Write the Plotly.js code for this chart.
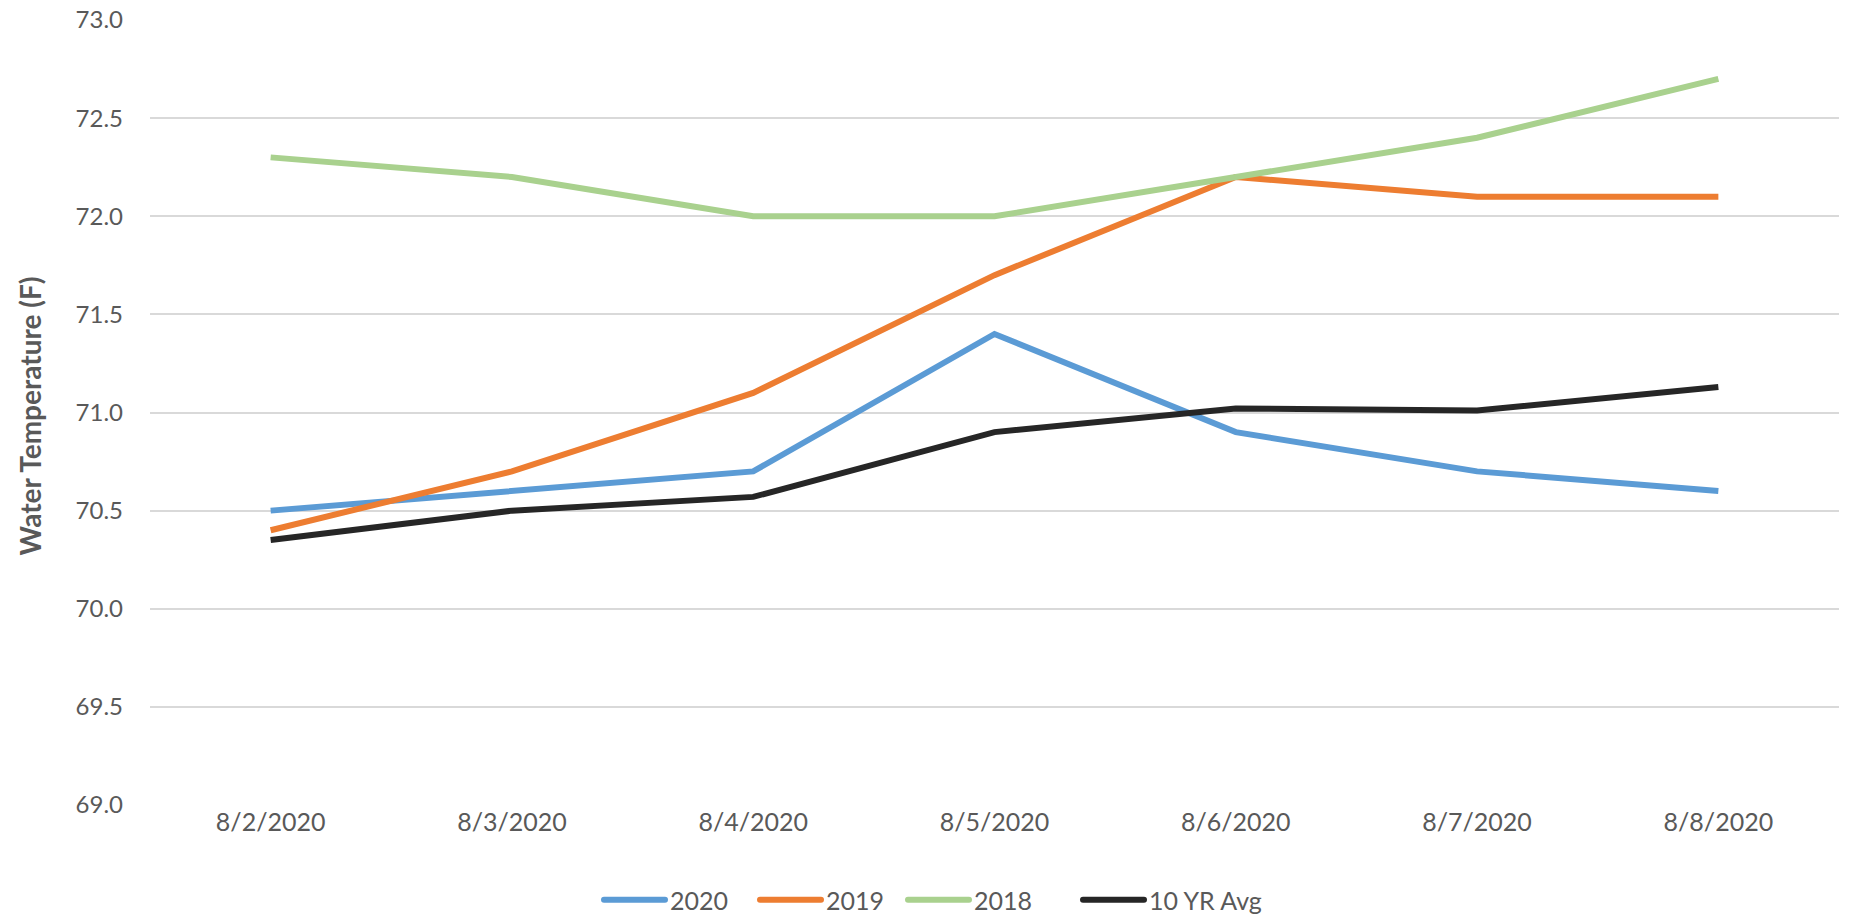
<!DOCTYPE html>
<html>
<head>
<meta charset="utf-8">
<script src="https://cdn.plot.ly/plotly-3.0.1.min.js"></script>
<style>html,body{margin:0;padding:0;background:#fff;}#chart{width:1849px;height:918px;}</style>
</head>
<body>
<div id="chart"></div>
<script>
const categories = ['8/2/2020','8/3/2020','8/4/2020','8/5/2020','8/6/2020','8/7/2020','8/8/2020'];
const y2020 = [70.5, 70.6, 70.7, 71.4, 70.9, 70.7, 70.6];
const y2019 = [70.4, 70.7, 71.1, 71.7, 72.2, 72.1, 72.1];
const y2018 = [72.3, 72.2, 72.0, 72.0, 72.2, 72.4, 72.7];
const yAvg  = [70.35, 70.5, 70.57, 70.9, 71.02, 71.01, 71.13];
const seriesNames = ['2020', '2019', '2018', '10 YR Avg'];
const yTicks = [69.0, 69.5, 70.0, 70.5, 71.0, 71.5, 72.0, 72.5, 73.0];

const colors = ['#5B9BD5', '#ED7D31', '#A9D18E', '#262626'];
const legendIds = ['legend', 'legend2', 'legend3', 'legend4'];
const legendX = [596, 752, 900, 1075];   // left edge of each legend entry (px)
const allY = [y2020, y2019, y2018, yAvg];
const traces = allY.map((ys, i) => ({
  type: 'scatter', mode: 'lines', x: categories, y: ys, name: seriesNames[i],
  legend: legendIds[i],
  line: {color: colors[i], width: 6}
}));

const W = 1849, H = 918;
const layout = {
  width: W, height: H,
  margin: {l: 150, r: 10, t: 20, b: 113},
  paper_bgcolor: '#fff', plot_bgcolor: '#fff',
  font: {family: 'Lato, "Open Sans", sans-serif', color: '#595959', size: 24},
  showlegend: true,
  xaxis: {type: 'category', range: [-0.5, 6.5], showgrid: false, zeroline: false,
          showline: false, ticks: '', tickfont: {size: 25, color: '#595959'}},
  yaxis: {range: [69.0, 73.0], tickvals: yTicks, ticktext: yTicks.map(v => v.toFixed(1)),
          showgrid: true, gridcolor: '#d9d9d9', gridwidth: 2, zeroline: false,
          showline: false, ticks: '', ticklabelstandoff: 26,
          tickfont: {size: 24, color: '#595959'}},
  annotations: [{
    text: '<b>Water Temperature (F)</b>', textangle: -90, showarrow: false,
    xref: 'paper', yref: 'paper', x: 0, y: 0.5, xanchor: 'center', yanchor: 'middle',
    xshift: -121, yshift: -4, font: {size: 28, color: '#595959'}
  }]
};
legendIds.forEach((id, i) => {
  layout[id] = {orientation: 'h', xref: 'container', yref: 'container',
    x: legendX[i] / W, y: 18 / H, xanchor: 'left', yanchor: 'middle',
    itemwidth: 64, font: {size: 25, color: '#595959'}, bgcolor: 'rgba(0,0,0,0)'};
});
Plotly.newPlot('chart', traces, layout, {displayModeBar: false, staticPlot: true}).then(() => {
  document.querySelectorAll('.legendlines path').forEach(p => {
    p.setAttribute('d', 'M8,0h61');
    p.style.strokeLinecap = 'round';
  });
});
</script>
</body>
</html>
